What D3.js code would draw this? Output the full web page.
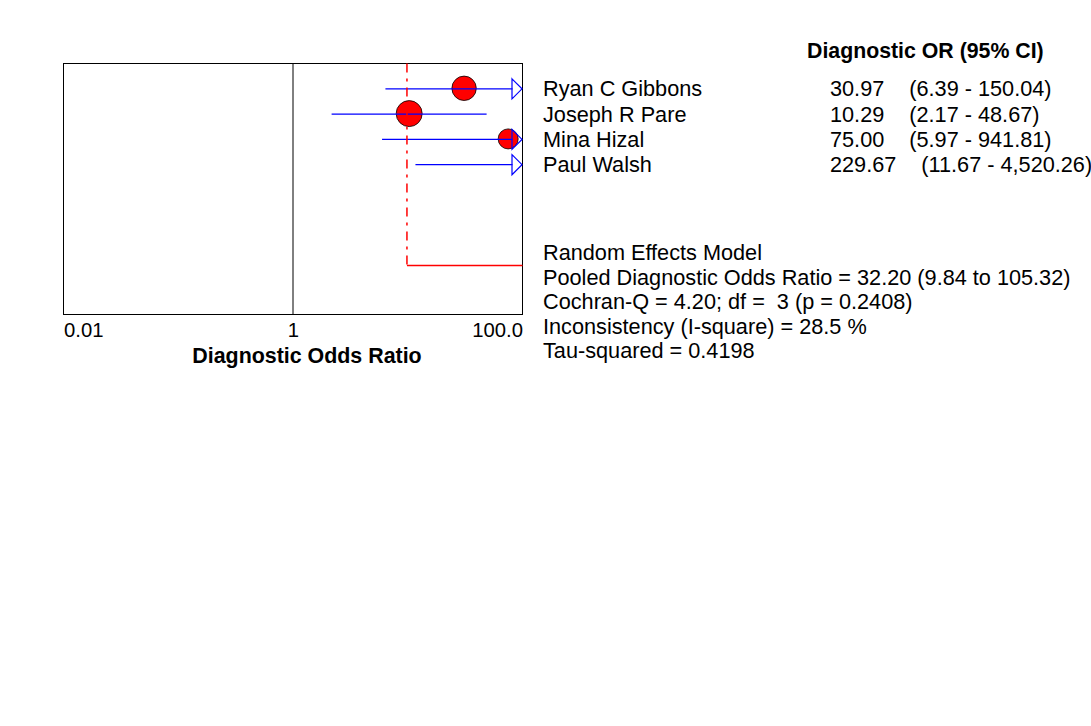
<!DOCTYPE html>
<html>
<head>
<meta charset="utf-8">
<script src="https://cdn.jsdelivr.net/npm/d3@7"></script>
<style>
  body { margin: 0; background: #fff; }
  svg text { font-family: "Liberation Sans", Arial, sans-serif; fill: #000; }
</style>
</head>
<body>
<svg class="main" width="1091" height="726"></svg>
<script>
// исследования и их значения
const studies = ["Ryan C Gibbons", "Joseph R Pare", "Mina Hizal", "Paul Walsh"];
const dor = [30.97, 10.29, 75.00, 229.67];
const ciLow = [6.39, 2.17, 5.97, 11.67];
const ciHigh = [150.04, 48.67, 941.81, 4520.26];
const dorLabels = ["30.97", "10.29", "75.00", "229.67"];
const ciLabels = ["(6.39 - 150.04)", "(2.17 - 48.67)", "(5.97 - 941.81)", "(11.67 - 4,520.26)"];
const weights = [28.1, 31.9, 18.9, 21.1];

// сводная оценка (random effects)
const pooled = [32.20, 9.84, 105.32]; // оценка, нижняя, верхняя граница
const pooledRow = 7;
const summaryLines = [
    "Random Effects Model",
    "Pooled Diagnostic Odds Ratio = 32.20 (9.84 to 105.32)",
    "Cochran-Q = 4.20; df =  3 (p = 0.2408)",
    "Inconsistency (I-square) = 28.5 %",
    "Tau-squared = 0.4198"
];

const tickValues = [0.01, 1, 100];
const tickLabels = ["0.01", "1", "100.0"];
const headerText = "Diagnostic OR (95% CI)";
const xTitle = "Diagnostic Odds Ratio";

const svg = d3.select("svg.main");

const pLeft = 63.5, pRight = 522.5, pTop = 63.5, pBottom = 314.5;
const fs = 21.7; // размер обычного текста

const x = d3.scaleLog().domain([0.01, 100]).range([pLeft, pRight]);
const y = d3.scaleLinear().domain([0, 1]).range([88.3, 113.6]);
const r = d3.scaleSqrt().domain([0, d3.max(weights)]).range([0, 13]);

const xMax = x.domain()[1];
const arrowLen = 10;

// рамка графика
svg.append("rect")
    .attr("x", pLeft).attr("y", pTop)
    .attr("width", pRight - pLeft).attr("height", pBottom - pTop)
    .attr("fill", "none").attr("stroke", "black");

// линия OR = 1
svg.append("line")
    .attr("x1", x(1)).attr("x2", x(1))
    .attr("y1", pTop).attr("y2", pBottom)
    .attr("stroke", "black");

const rows = studies.map((s, i) => ({name: s, or: dor[i], lo: ciLow[i], hi: ciHigh[i], w: weights[i], i: i}));

// точки (только те, что попали в шкалу)
svg.selectAll("circle.pt")
    .data(rows.filter(d => d.or <= xMax))
    .join("circle")
    .attr("class", "pt")
    .attr("cx", d => x(d.or))
    .attr("cy", d => y(d.i))
    .attr("r", d => r(d.w))
    .attr("fill", "#ff0000")
    .attr("stroke", "black")
    .attr("stroke-width", 0.8);

// доверительные интервалы
svg.selectAll("line.ci")
    .data(rows)
    .join("line")
    .attr("class", "ci")
    .attr("x1", d => x(Math.max(d.lo, 0.01)))
    .attr("x2", d => d.hi > xMax ? x(xMax) - arrowLen : x(d.hi))
    .attr("y1", d => y(d.i) + 0.5)
    .attr("y2", d => y(d.i) + 0.5)
    .attr("stroke", "#0000ff")
    .attr("stroke-width", 1.2);

// стрелки для интервалов, выходящих за шкалу
svg.selectAll("path.arrow")
    .data(rows.filter(d => d.hi > xMax))
    .join("path")
    .attr("class", "arrow")
    .attr("d", d => {
        const xe = x(xMax) - 0.5, yc = y(d.i) + 0.5;
        return `M${xe - arrowLen},${yc - 10} L${xe},${yc} L${xe - arrowLen},${yc + 10} Z`;
    })
    .attr("fill", "none")
    .attr("stroke", "#0000ff")
    .attr("stroke-width", 1.2);

// сводная оценка: штрихпунктир и горизонтальная линия
svg.append("line")
    .attr("x1", x(pooled[1])).attr("x2", x(pooled[1]))
    .attr("y1", pTop).attr("y2", y(pooledRow))
    .attr("stroke", "#ff0000")
    .attr("stroke-width", 1.5)
    .attr("stroke-dasharray", "9,6,3,6");

svg.append("line")
    .attr("x1", x(pooled[1])).attr("x2", x(Math.min(pooled[2], xMax)))
    .attr("y1", y(pooledRow)).attr("y2", y(pooledRow))
    .attr("stroke", "#ff0000")
    .attr("stroke-width", 1.5);

// ось X
const axis = d3.axisBottom(x)
    .tickValues(tickValues)
    .tickSize(0)
    .tickFormat((d, i) => tickLabels[i]);

const gx = svg.append("g")
    .attr("transform", `translate(0,${pBottom})`)
    .call(axis);
gx.select(".domain").remove();
gx.selectAll("text")
    .attr("y", 22)
    .attr("dy", 0)
    .attr("font-size", 20.3)
    .attr("font-family", "Liberation Sans, Arial, sans-serif")
    .attr("fill", "black")
    .attr("text-anchor", (d, i) => i == 0 ? "start" : (i == tickValues.length - 1 ? "end" : "middle"));

svg.append("text")
    .attr("x", 307)
    .attr("y", 362.5)
    .attr("text-anchor", "middle")
    .attr("font-size", 21.4)
    .attr("font-weight", "bold")
    .text(xTitle);

// заголовок таблицы
svg.append("text")
    .attr("x", 807).attr("y", 57.5)
    .attr("font-size", 21.3)
    .attr("font-weight", "bold")
    .text(headerText);

// названия исследований
svg.selectAll("text.name")
    .data(rows)
    .join("text")
    .attr("class", "name")
    .attr("x", 543)
    .attr("y", d => y(d.i) + 8)
    .attr("font-size", fs)
    .text(d => d.name);

// значения и интервалы
const vals = svg.selectAll("text.val")
    .data(rows)
    .join("text")
    .attr("class", "val")
    .attr("x", 830)
    .attr("y", d => y(d.i) + 8)
    .attr("font-size", fs);
vals.append("tspan").text(d => dorLabels[d.i]);
vals.append("tspan").attr("dx", 25).text(d => ciLabels[d.i]);

// текст модели
svg.selectAll("text.sum")
    .data(summaryLines)
    .join("text")
    .attr("class", "sum")
    .attr("x", 543)
    .attr("y", (d, i) => 260 + i * 24.6)
    .attr("font-size", fs)
    .style("white-space", "pre")
    .text(d => d);
</script>
</body>
</html>
